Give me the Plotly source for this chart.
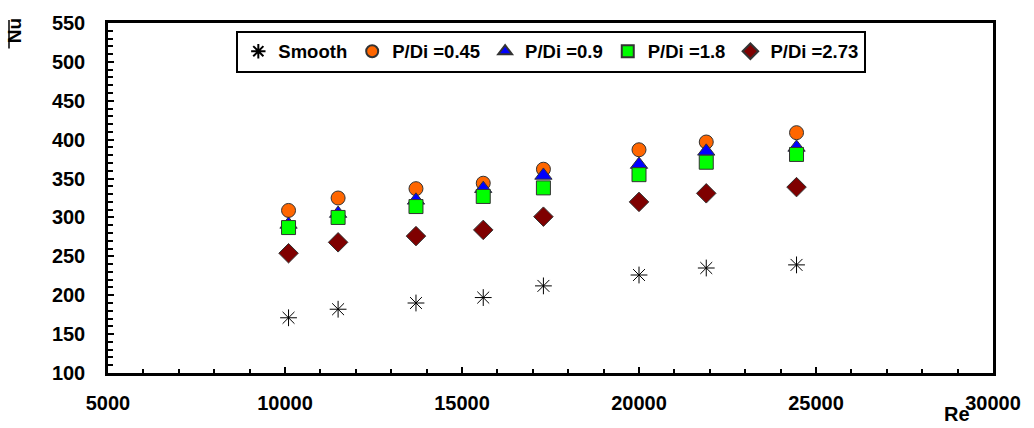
import plotly.graph_objects as go

re_vals = [10100, 11500, 13700, 15600, 17300, 20000, 21900, 24450]
smooth = [171, 182, 190, 197, 212, 226, 235, 239]
pd045 = [309, 325, 337, 344, 362, 387, 397, 409]
pd09 = [291, 305, 322, 337, 354, 368, 385, 390]
pd18 = [287, 300, 314, 327, 338, 355, 371, 381]
pd273 = [254, 268, 276, 284, 301, 320, 331, 339]

x_ticks = [5000, 10000, 15000, 20000, 25000, 30000]
y_ticks = [100, 150, 200, 250, 300, 350, 400, 450, 500, 550]

series = [
    ("Smooth", smooth, "asterisk-open", "black", 14),
    ("P/Di =0.45", pd045, "circle", "#FF6600", 14),
    ("P/Di =0.9", pd09, "triangle-up", "#0000FF", 15),
    ("P/Di =1.8", pd18, "square", "#00FF00", 14),
    ("P/Di =2.73", pd273, "diamond", "#7F0000", 15),
]

FAM = "Liberation Sans, Arial, sans-serif"

fig = go.Figure()
for name, ys, sym, col, sz in series:
    if sym == "asterisk-open":
        marker = dict(symbol=sym, size=sz, color=col, line=dict(color="#222222", width=1))
    else:
        marker = dict(symbol=sym, size=sz, color=col, line=dict(color="#333333", width=1))
    fig.add_trace(go.Scatter(x=re_vals, y=ys, mode="markers", name="<b>" + name + "</b>", marker=marker))

fig.update_layout(
    width=1034, height=428,
    margin=dict(l=108, r=41, t=16, b=55),
    paper_bgcolor="white", plot_bgcolor="white",
    font=dict(family=FAM, size=16, color="black"),
    showlegend=True,
    legend=dict(
        orientation="h", x=0.145, y=0.978, xanchor="left", yanchor="top",
        bordercolor="black", borderwidth=2, bgcolor="white",
        font=dict(family=FAM, size=18.5, color="black"),
        itemsizing="constant", tracegroupgap=0, itemwidth=30,
    ),
    xaxis=dict(
        range=[5000, 30000],
        tickvals=x_ticks, ticktext=["<b>%d</b>" % v for v in x_ticks],
        showgrid=False, zeroline=False,
        showline=True, linecolor="black", linewidth=2.5, mirror=True,
        ticks="inside", ticklen=6, tickwidth=2, tickcolor="black",
        minor=dict(dtick=1000, tick0=5000, ticks="inside", ticklen=4, tickwidth=1.5, tickcolor="black"),
        tickfont=dict(family=FAM, size=20, color="black"),
        ticklabelstandoff=10,
    ),
    yaxis=dict(
        range=[100, 550],
        tickvals=y_ticks, ticktext=["<b>%d</b>" % v for v in y_ticks],
        showgrid=False, zeroline=False,
        showline=True, linecolor="black", linewidth=2.5, mirror=True,
        ticks="inside", ticklen=6, tickwidth=2, tickcolor="black",
        minor=dict(dtick=10, tick0=100, ticks="inside", ticklen=5, tickwidth=1.5, tickcolor="black"),
        tickfont=dict(family=FAM, size=20, color="black"),
        ticklabelstandoff=16,
    ),
)

fig.add_annotation(
    text="<b>Re</b>", xref="paper", yref="paper",
    x=(957 - 108) / 885, y=(373 - 415) / 357, xanchor="center", yanchor="middle",
    showarrow=False,
    font=dict(family=FAM, size=20, color="black"),
)
fig.add_annotation(
    text="<b>Nu</b>", xref="paper", yref="paper", textangle=-90,
    x=(14.5 - 108) / 885, y=(373 - 24) / 357, xanchor="center", yanchor="middle",
    showarrow=False,
    font=dict(family=FAM, size=19, color="black"),
)
fig.add_shape(
    type="line", xref="paper", yref="paper",
    x0=(9 - 108) / 885, x1=(9 - 108) / 885,
    y0=(373 - 13) / 357, y1=(373 - 42) / 357,
    line=dict(color="black", width=1.5),
)

fig.write_html("out.html")
